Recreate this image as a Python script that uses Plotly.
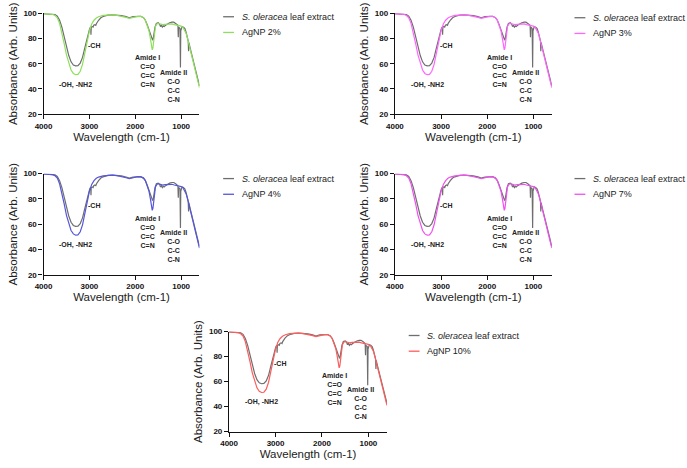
import plotly.graph_objects as go

# ---------------- data ----------------
wn_extract = [4000, 3900, 3800, 3750, 3700, 3650, 3600, 3550, 3500, 3450, 3400, 3350, 3300, 3250,
              3200, 3150, 3100, 3050, 3000, 2985, 2972, 2966, 2960, 2940, 2920, 2905, 2880, 2860,
              2845, 2800, 2750, 2700, 2600, 2500, 2400, 2300, 2200, 2130, 2050, 1950, 1880, 1820,
              1780, 1740, 1700, 1670, 1650, 1625, 1610, 1595, 1570, 1540, 1500, 1470, 1450, 1430,
              1410, 1390, 1370, 1340, 1300, 1250, 1200, 1160, 1120, 1090, 1070, 1062, 1055, 1040,
              1025, 1015, 1008, 995, 980, 950, 920, 895, 870, 845, 838, 832, 800, 760, 720, 680,
              640, 600]
abs_extract = [99.8, 99.7, 99.5, 99.0, 97.8, 94.5, 89.0, 81.0, 73.0, 66.5, 61.5, 59.0, 58.3, 58.5,
               60.5, 65.0, 72.5, 81.0, 87.0, 88.5, 89.0, 83.0, 89.0, 89.5, 89.0, 90.5, 91.0, 90.5,
               92.0, 94.5, 96.5, 97.5, 98.6, 98.8, 98.6, 98.2, 97.4, 96.5, 97.3, 97.8, 97.6, 96.5,
               94.5, 91.0, 87.0, 84.0, 81.0, 79.0, 79.5, 84.0, 89.0, 92.0, 92.5, 91.5, 89.5, 90.5,
               89.0, 90.0, 89.5, 90.5, 91.5, 92.5, 93.0, 93.0, 92.0, 91.0, 90.5, 81.0, 89.0, 88.5,
               88.0, 57.0, 86.0, 89.5, 89.5, 89.0, 88.0, 85.5, 82.0, 78.0, 70.0, 77.0, 72.0, 66.0,
               60.0, 54.5, 48.0, 42.5]

wn_agnp = [4000, 3900, 3800, 3750, 3700, 3650, 3600, 3550, 3500, 3450, 3400, 3350, 3300, 3250,
           3200, 3150, 3100, 3050, 3000, 2950, 2900, 2850, 2800, 2700, 2600, 2500, 2400, 2300,
           2200, 2130, 2050, 1950, 1880, 1820, 1780, 1740, 1700, 1670, 1650, 1630, 1615, 1600,
           1580, 1560, 1530, 1500, 1450, 1400, 1350, 1300, 1250, 1200, 1150, 1100, 1050, 1000,
           960, 920, 890, 860, 830, 800, 760, 720, 680, 640, 600]
abs_agnp = [99.8, 99.6, 99.2, 98.3, 96.5, 92.0, 85.0, 76.0, 67.0, 60.0, 55.0, 52.3, 51.3, 51.5,
            54.0, 59.5, 68.0, 78.0, 86.0, 91.5, 94.5, 96.3, 97.3, 98.3, 98.8, 98.8, 98.4, 97.8,
            96.8, 96.0, 96.8, 97.6, 97.5, 96.5, 94.5, 91.0, 86.0, 80.0, 74.0, 71.0, 72.5, 78.0,
            85.0, 89.5, 91.5, 92.0, 91.5, 91.0, 91.3, 91.5, 91.8, 91.6, 91.0, 90.6, 90.3, 89.8,
            88.8, 86.5, 84.0, 80.0, 76.0, 71.0, 65.0, 59.0, 53.0, 47.0, 41.0]

agnp_labels = ["AgNP 2%", "AgNP 3%", "AgNP 4%", "AgNP 7%", "AgNP 10%"]
agnp_colors = ["#8de05a", "#ff66ff", "#5555dd", "#f050f0", "#ff5c5c"]
extract_label = "<i>S. oleracea</i> leaf extract"
extract_color = "#6e6e6e"

x_ticks = [4000, 3000, 2000, 1000]
y_ticks = [20, 40, 60, 80, 100]

# ---------------- layout geometry (pixels) ----------------
W, H = 687, 468
panels = [  # x0, x1, ytop, ybottom, legend line x0, legend row-1 y
    (35, 193, 9.5, 112.3, 217, 13),
    (391, 550, 9.5, 112.3, 573, 14),
    (35, 193, 173, 276, 217, 178),
    (391, 550, 173, 276, 573, 178),
    (223, 383, 334, 436, 405, 338),
]

FONT = "Liberation Sans, Arial, sans-serif"
fig = go.Figure()

for i, (x0, x1, yt, yb, lx, ly) in enumerate(panels):
    n = i + 1
    sfx = "" if n == 1 else str(n)
    fig.add_trace(go.Scatter(x=wn_extract, y=abs_extract, mode="lines", name=extract_label,
                             line=dict(color=extract_color, width=1.2),
                             xaxis="x" + sfx, yaxis="y" + sfx, showlegend=False))
    fig.add_trace(go.Scatter(x=wn_agnp, y=abs_agnp, mode="lines", name=agnp_labels[i],
                             line=dict(color=agnp_colors[i], width=1.2),
                             xaxis="x" + sfx, yaxis="y" + sfx, showlegend=False))
    axcommon = dict(showline=True, linecolor="#111", linewidth=1.3, ticks="outside",
                    ticklen=4, tickwidth=1.2, tickcolor="#111", showgrid=False, zeroline=False,
                    tickfont=dict(family=FONT, size=8, color="#111", weight="bold"))
    fig.update_layout({
        "xaxis" + sfx: dict(domain=[x0 / W, x1 / W], range=[4000, 600], tickvals=x_ticks,
                            anchor="y" + sfx,
                            title=dict(text="Wavelength (cm-1)", standoff=2,
                                       font=dict(family=FONT, size=11.5, color="#222")),
                            **axcommon),
        "yaxis" + sfx: dict(domain=[1 - yb / H, 1 - yt / H], range=[20, 100], tickvals=y_ticks,
                            anchor="x" + sfx,
                            title=dict(text="Absorbance (Arb. Units)", standoff=3,
                                       font=dict(family=FONT, size=11.5, color="#222")),
                            **axcommon),
    })
    # legend (short line samples + labels)
    for k, (lab, col) in enumerate([(extract_label, extract_color),
                                    (agnp_labels[i], agnp_colors[i])]):
        yy = 1 - (ly + 16 * k) / H
        fig.add_shape(type="line", xref="paper", yref="paper", x0=lx / W, x1=(lx + 11) / W,
                      y0=yy, y1=yy, line=dict(color=col, width=1.3))
        fig.add_annotation(text=lab, xref="paper", yref="paper", x=(lx + 17) / W, y=yy,
                           xanchor="left", yanchor="middle", showarrow=False,
                           font=dict(family=FONT, size=9, color="#222"))
    ann = [("<b>-CH</b>", 2900, 74.5),
           ("<b>-OH, -NH2</b>", 3300, 43.5),
           ("<b>Amide I<br>C=O<br>C=C<br>C=N</b>", 1740, 54),
           ("<b>Amide II<br>C-O<br>C-C<br>C-N</b>", 1165, 42.5)]
    for txt, ax_, ay_ in ann:
        fig.add_annotation(text=txt, x=ax_, y=ay_, xref="x" + sfx, yref="y" + sfx,
                           showarrow=False, font=dict(family=FONT, size=7, color="#222"),
                           align="center")

fig.update_layout(width=W, height=H, margin=dict(l=0, r=0, t=0, b=0),
                  paper_bgcolor="white", plot_bgcolor="white", showlegend=False)
fig.write_html("out.html", config={"displayModeBar": False},
               post_script="document.body.style.margin='0';document.body.style.overflow='hidden';")
